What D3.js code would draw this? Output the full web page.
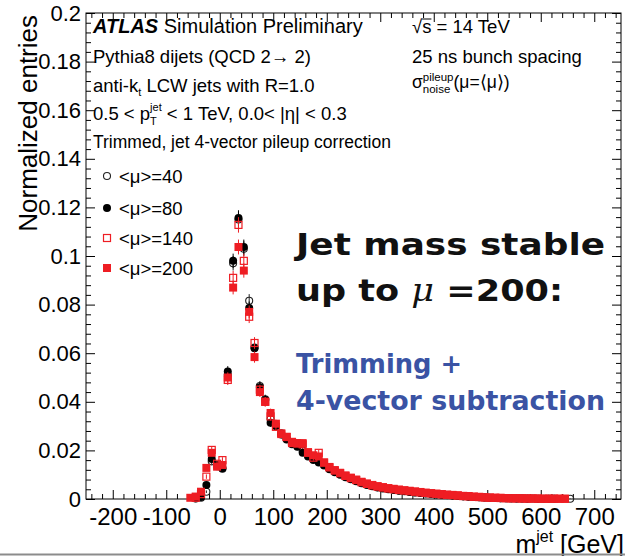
<!DOCTYPE html>
<html>
<head>
<meta charset="utf-8">
<script src="https://cdn.jsdelivr.net/npm/d3@7"></script>
<style>
  body { margin: 0; background: #fff; }
  svg { display: block; font-family: "Liberation Sans", Arial, sans-serif; }
  text { white-space: pre; }
</style>
</head>
<body>
<svg id="chart" width="625" height="556"></svg>
<script>
// bin centres of the jet mass histogram, 10 GeV bins from -60 to 660
const massBins = d3.range(-55, 656, 10);

// normalized entries per bin, one array per pileup condition (null = empty bin)
const mu40 = [
  null, 0.0002, 0.0005, 0.0030, 0.0155, 0.0135, 0.0125, 0.0510, 0.0970, 0.1150,
  0.1030, 0.0816, 0.0623, 0.0465, 0.0410, 0.0330, 0.0300, 0.0270, 0.0250, 0.0230,
  0.0220, 0.0200, 0.0180, 0.0165, 0.0155, 0.0140, 0.0126, 0.0114, 0.0103, 0.0093,
  0.0084, 0.0076, 0.0067, 0.0060, 0.0054, 0.0049, 0.0045, 0.0041, 0.0038, 0.0035,
  0.0033, 0.0030, 0.0028, 0.0026, 0.0024, 0.0022, 0.0020, 0.0018, 0.0016, 0.0015,
  0.0013, 0.0011, 0.0010, 0.0008, 0.0007, 0.0006, 0.0005, 0.0004, 0.0003, 0.0003,
  0.0002, 0.0002, 0.0002, 0.0001, null, 0.0001, null, 0.0001, 0.0001, null,
  null, 0.0001
];
const mu80 = [
  null, 0.0003, 0.0008, 0.0058, 0.0165, 0.0140, 0.0127, 0.0525, 0.0980, 0.1156,
  0.1037, 0.0786, 0.0620, 0.0460, 0.0407, 0.0314, 0.0300, 0.0265, 0.0245, 0.0225,
  0.0215, 0.0190, 0.0175, 0.0160, 0.0150, 0.0138, 0.0122, 0.0110, 0.0100, 0.0090,
  0.0081, 0.0073, 0.0065, 0.0058, 0.0052, 0.0047, 0.0043, 0.0040, 0.0037, 0.0034,
  0.0032, 0.0029, 0.0027, 0.0025, 0.0023, 0.0021, 0.0019, 0.0017, 0.0016, 0.0014,
  0.0012, 0.0011, 0.0009, 0.0008, 0.0007, 0.0006, 0.0005, 0.0004, 0.0003, 0.0003,
  0.0003, 0.0002, 0.0002, 0.0002, 0.0002, 0.0001, 0.0001, 0.0001, 0.0001, null,
  null, null
];
const mu140 = [
  null, 0.0005, 0.0020, 0.0092, 0.0202, 0.0145, 0.0160, 0.0490, 0.0910, 0.1128,
  0.0980, 0.0750, 0.0642, 0.0450, 0.0400, 0.0340, 0.0297, 0.0270, 0.0255, 0.0235,
  0.0230, 0.0225, 0.0190, 0.0170, 0.0190, 0.0150, 0.0130, 0.0117, 0.0106, 0.0095,
  0.0086, 0.0078, 0.0069, 0.0062, 0.0056, 0.0051, 0.0047, 0.0043, 0.0040, 0.0037,
  0.0035, 0.0032, 0.0030, 0.0027, 0.0025, 0.0023, 0.0021, 0.0019, 0.0017, 0.0016,
  0.0014, 0.0012, 0.0011, 0.0009, 0.0008, 0.0006, 0.0005, 0.0005, 0.0004, 0.0003,
  0.0003, 0.0003, 0.0002, 0.0002, 0.0002, 0.0001, 0.0001, 0.0001, 0.0001, 0.0001,
  0.0001, null
];
const mu200 = [
  0.0005, 0.0010, 0.0030, 0.0128, 0.0190, 0.0133, 0.0140, 0.0500, 0.0870, 0.1037,
  0.0940, 0.0770, 0.0584, 0.0440, 0.0400, 0.0354, 0.0310, 0.0267, 0.0256, 0.0230,
  0.0228, 0.0230, 0.0193, 0.0180, 0.0175, 0.0150, 0.0132, 0.0119, 0.0108, 0.0097,
  0.0088, 0.0080, 0.0071, 0.0064, 0.0058, 0.0053, 0.0049, 0.0045, 0.0042, 0.0039,
  0.0036, 0.0034, 0.0031, 0.0029, 0.0026, 0.0024, 0.0022, 0.0020, 0.0018, 0.0017,
  0.0015, 0.0013, 0.0012, 0.0010, 0.0009, 0.0007, 0.0006, 0.0005, 0.0005, 0.0004,
  0.0003, 0.0003, 0.0003, 0.0002, 0.0002, 0.0002, 0.0001, 0.0001, 0.0001, 0.0001,
  0.0001, null
];

const xTicks = [-200, -100, 0, 100, 200, 300, 400, 500, 600, 700];
const yTicks = [0, 0.02, 0.04, 0.06, 0.08, 0.1, 0.12, 0.14, 0.16, 0.18, 0.2];
const legendLabels = ["<μ>=40", "<μ>=80", "<μ>=140", "<μ>=200"];

const FONT = "'Liberation Sans', Arial, sans-serif";
const RED = "#ee1d23";

const svg = d3.select("#chart");

const x = d3.scaleLinear().domain([-250, 750]).range([86, 621]);
const y = d3.scaleLinear().domain([0, 0.2]).range([499, 13]);

// ---- axes (ticks inward on all four sides, ROOT style)
const xMinor = d3.range(-240, 741, 20).filter(v => v % 100 !== 0);
const yMinor = d3.range(1, 50).filter(i => i % 5 !== 0).map(i => i * 0.004);

function styleAxis(g, size) {
  g.attr("font-size", size || 22).attr("font-family", FONT);
  g.select(".domain").remove();
  g.selectAll("text").attr("fill", "#000");
}

svg.append("g").attr("transform", "translate(0,499)")
  .call(d3.axisBottom(x).tickValues(xTicks).tickSizeInner(-9).tickSizeOuter(0)
    .tickPadding(9).tickFormat(d => String(d)))
  .call(styleAxis, 24);
svg.append("g").attr("transform", "translate(0,499)")
  .call(d3.axisBottom(x).tickValues(xMinor).tickSize(-5).tickFormat(""))
  .call(styleAxis);
svg.append("g").attr("transform", "translate(0,13)")
  .call(d3.axisTop(x).tickValues(xTicks).tickSize(-9).tickFormat(""))
  .call(styleAxis);
svg.append("g").attr("transform", "translate(0,13)")
  .call(d3.axisTop(x).tickValues(xMinor).tickSize(-5).tickFormat(""))
  .call(styleAxis);

svg.append("g").attr("transform", "translate(86,0)")
  .call(d3.axisLeft(y).tickValues(yTicks).tickSizeInner(-9).tickSizeOuter(0)
    .tickPadding(5).tickFormat(d => String(d)))
  .call(styleAxis, 22);
svg.append("g").attr("transform", "translate(86,0)")
  .call(d3.axisLeft(y).tickValues(yMinor).tickSize(-5).tickFormat(""))
  .call(styleAxis);
svg.append("g").attr("transform", "translate(621,0)")
  .call(d3.axisRight(y).tickValues(yTicks).tickSize(-9).tickFormat(""))
  .call(styleAxis);
svg.append("g").attr("transform", "translate(621,0)")
  .call(d3.axisRight(y).tickValues(yMinor).tickSize(-5).tickFormat(""))
  .call(styleAxis);

svg.append("rect")
  .attr("x", 86).attr("y", 13).attr("width", 535).attr("height", 486)
  .attr("fill", "none").attr("stroke", "#000").attr("stroke-width", 1);

// ---- markers
const series = [
  { values: mu40, shape: "circle", filled: false, color: "#222" },
  { values: mu80, shape: "circle", filled: true, color: "#000" },
  { values: mu140, shape: "square", filled: false, color: RED },
  { values: mu200, shape: "square", filled: true, color: RED }
];

function drawMarker(g, s, cx, cy) {
  if (s.shape === "circle") {
    g.append("circle").attr("cx", cx).attr("cy", cy).attr("r", s.filled ? 4 : 3.5)
      .attr("fill", s.filled ? s.color : "none")
      .attr("stroke", s.color).attr("stroke-width", s.filled ? 0 : 1.1);
  } else {
    const h = s.filled ? 4 : 3.5;
    g.append("rect").attr("x", cx - h).attr("y", cy - h).attr("width", 2 * h).attr("height", 2 * h)
      .attr("fill", s.filled ? s.color : "none")
      .attr("stroke", s.color).attr("stroke-width", s.filled ? 0 : 1.2);
  }
}

const plot = svg.append("g");
series.forEach(s => {
  const pts = massBins.map((m, i) => ({ m, v: s.values[i] })).filter(d => d.v != null);
  const g = plot.append("g");
  g.selectAll("line.err").data(pts).enter().append("line")
    .attr("class", "err")
    .attr("x1", d => x(d.m)).attr("x2", d => x(d.m))
    .attr("y1", d => y(d.v + Math.sqrt(d.v) * 0.0095))
    .attr("y2", d => y(Math.max(0, d.v - Math.sqrt(d.v) * 0.0095)))
    .attr("stroke", s.color).attr("stroke-width", 1);
  pts.forEach(d => drawMarker(g, s, x(d.m), y(d.v)));
});

// ---- rich text helper: parts placed one after another, "stack" puts a part
// at the same x as the previous one (sub + superscript pairs)
function richText(g, x0, y0, parts, size) {
  let cx = x0, prevX = x0;
  parts.forEach(p => {
    const px = p.stack ? prevX : cx;
    const t = g.append("text")
      .attr("x", px).attr("y", y0 + (p.dy || 0))
      .attr("font-family", FONT)
      .attr("font-size", p.size || size)
      .attr("font-weight", p.bold ? "bold" : null)
      .attr("font-style", p.italic ? "italic" : null)
      .attr("fill", "#000")
      .text(p.t);
    const w = t.node().getComputedTextLength();
    if (p.over) {
      g.append("line").attr("x1", px).attr("x2", px + w)
        .attr("y1", y0 - 14).attr("y2", y0 - 14)
        .attr("stroke", "#000").attr("stroke-width", 1);
    }
    if (p.stack) cx = Math.max(cx, px + w);
    else { prevX = px; cx = px + w; }
  });
}

const info = svg.append("g");
richText(info, 93, 33, [
  { t: "ATLAS", bold: true, italic: true, size: 20 },
  { t: " Simulation Preliminary" }
], 20);
richText(info, 93, 63, [{ t: "Pythia8 dijets (QCD 2→ 2)" }], 18.5);
richText(info, 93, 92, [
  { t: "anti-k" }, { t: "t", size: 11, dy: 4 }, { t: " LCW jets with R=1.0" }
], 18.5);
richText(info, 93, 120, [
  { t: "0.5 < p" }, { t: "jet", size: 11, dy: -9 }, { t: "T", size: 11, dy: 5, stack: true },
  { t: " < 1 TeV, 0.0< |η| < 0.3" }
], 18.5);
richText(info, 93, 148, [{ t: "Trimmed, jet 4-vector pileup correction" }], 17.5);

richText(info, 412, 33, [{ t: "√" }, { t: "s", over: true }, { t: " = 14 TeV" }], 18.5);
richText(info, 412, 63, [{ t: "25 ns bunch spacing" }], 18.5);
richText(info, 412, 88, [
  { t: "σ" }, { t: "pileup", size: 11.5, dy: -7 }, { t: "noise", size: 11.5, dy: 5, stack: true },
  { t: "(μ=⟨μ⟩)" }
], 17.5);

// ---- legend
const legendY = [176, 208, 238, 268];
const legend = svg.append("g");
series.forEach((s, i) => {
  drawMarker(legend, s, 107, legendY[i]);
  legend.append("text")
    .attr("x", 119).attr("y", legendY[i] + 6.5)
    .attr("font-family", FONT).attr("font-size", 18.5).attr("fill", "#000")
    .text(legendLabels[i]);
});

// ---- axis titles
svg.append("text")
  .attr("transform", "translate(37,15) rotate(-90)")
  .attr("text-anchor", "end")
  .attr("font-family", FONT).attr("font-size", 26).attr("fill", "#000")
  .text("Normalized entries");

const xt = svg.append("text")
  .attr("x", 624).attr("y", 553).attr("text-anchor", "end")
  .attr("font-family", FONT).attr("font-size", 25).attr("fill", "#000");
xt.append("tspan").text("m");
xt.append("tspan").attr("font-size", 16).attr("dy", -11).text("jet");
xt.append("tspan").attr("dy", 11).text(" [GeV]");

// ---- slide annotation
const ANN = "'DejaVu Sans', sans-serif";
const ann = svg.append("g").attr("font-family", ANN).attr("font-weight", "bold");
ann.append("text").attr("x", 296).attr("y", 255).attr("font-size", 31)
  .attr("fill", "#111").attr("textLength", 309).attr("lengthAdjust", "spacingAndGlyphs")
  .text("Jet mass stable");
const l2 = ann.append("text").attr("x", 296).attr("y", 301).attr("font-size", 31)
  .attr("fill", "#111").attr("textLength", 267).attr("lengthAdjust", "spacingAndGlyphs");
l2.append("tspan").text("up to ");
l2.append("tspan").attr("font-style", "italic").attr("font-family", "'DejaVu Serif', serif")
  .attr("font-weight", "normal").text("μ");
l2.append("tspan").text(" =200:");
ann.append("text").attr("x", 296).attr("y", 373).attr("font-size", 27)
  .attr("fill", "#3a53a4").attr("textLength", 166).attr("lengthAdjust", "spacingAndGlyphs")
  .text("Trimming +");
ann.append("text").attr("x", 296).attr("y", 410).attr("font-size", 27)
  .attr("fill", "#3a53a4").attr("textLength", 309).attr("lengthAdjust", "spacingAndGlyphs")
  .text("4-vector subtraction");

// slide border at the bottom
svg.append("line").attr("x1", 0).attr("x2", 625).attr("y1", 554.5).attr("y2", 554.5)
  .attr("stroke", "#8c8c8c").attr("stroke-width", 2);
</script>
</body>
</html>
